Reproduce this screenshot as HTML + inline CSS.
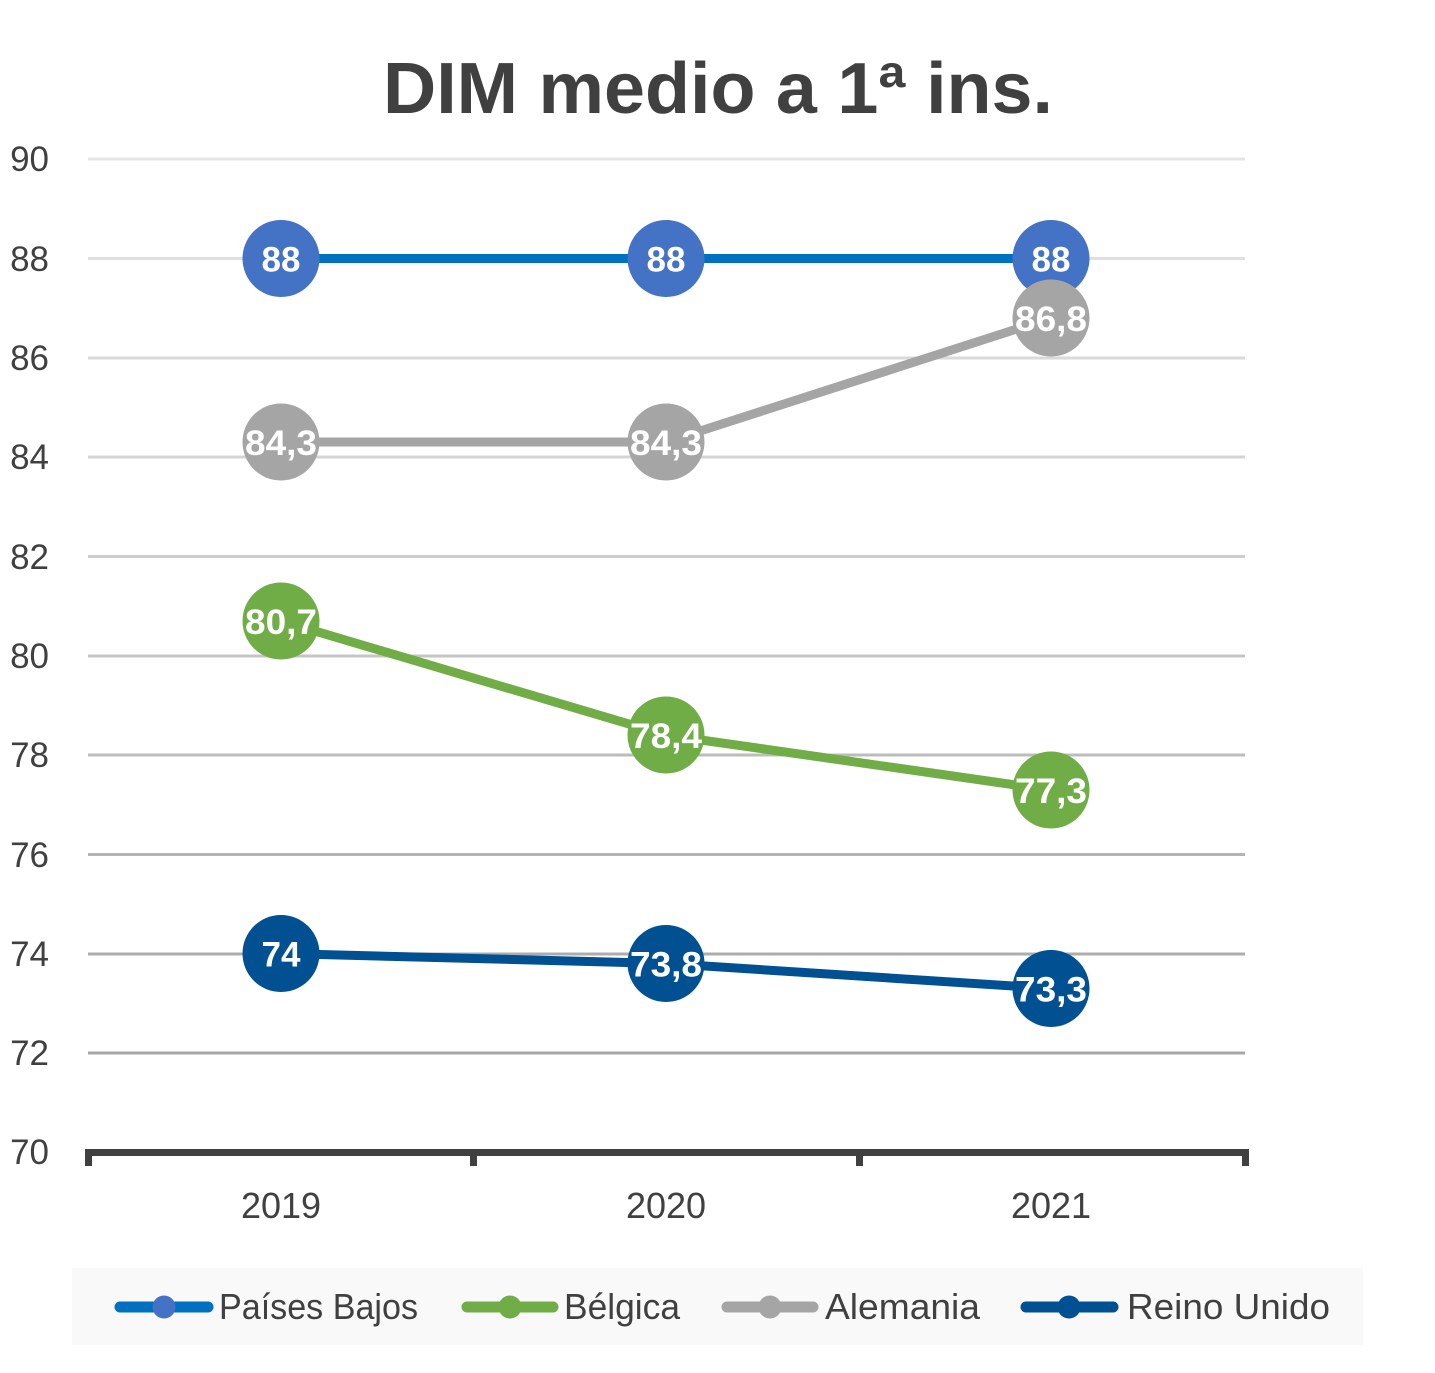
<!DOCTYPE html>
<html>
<head>
<meta charset="utf-8">
<style>
  html, body { margin: 0; padding: 0; background: #ffffff; }
  svg { display: block; }
  text { font-family: "Liberation Sans", "DejaVu Sans", sans-serif; }
</style>
</head>
<body>
<svg width="1435" height="1373" viewBox="0 0 1435 1373" xmlns="http://www.w3.org/2000/svg">
  <rect x="0" y="0" width="1435" height="1373" fill="#ffffff"/>

  <!-- Title -->
  <text x="718" y="113" text-anchor="middle" font-size="72" font-weight="bold" fill="#404040" textLength="670" lengthAdjust="spacingAndGlyphs">DIM medio a 1ª ins.</text>

  <!-- Gridlines -->
  <g stroke-width="3">
    <line x1="88" x2="1245" y1="159" y2="159" stroke="#e4e4e4"/>
    <line x1="88" x2="1245" y1="258.5" y2="258.5" stroke="#dfdfdf"/>
    <line x1="88" x2="1245" y1="358" y2="358" stroke="#dadada"/>
    <line x1="88" x2="1245" y1="457" y2="457" stroke="#d4d4d4"/>
    <line x1="88" x2="1245" y1="556.5" y2="556.5" stroke="#cdcdcd"/>
    <line x1="88" x2="1245" y1="656" y2="656" stroke="#c5c5c5"/>
    <line x1="88" x2="1245" y1="755" y2="755" stroke="#bcbcbc"/>
    <line x1="88" x2="1245" y1="854.5" y2="854.5" stroke="#b4b4b4"/>
    <line x1="88" x2="1245" y1="954" y2="954" stroke="#adadad"/>
    <line x1="88" x2="1245" y1="1053" y2="1053" stroke="#a7a7a7"/>
  </g>

  <!-- X axis -->
  <line x1="85" x2="1249" y1="1152.5" y2="1152.5" stroke="#404040" stroke-width="7"/>
  <g stroke="#404040" stroke-width="7">
    <line x1="88.5" x2="88.5" y1="1149" y2="1166"/>
    <line x1="473.5" x2="473.5" y1="1149" y2="1166"/>
    <line x1="859.5" x2="859.5" y1="1149" y2="1166"/>
    <line x1="1245.5" x2="1245.5" y1="1149" y2="1166"/>
  </g>

  <!-- Y labels -->
  <g font-size="35" fill="#404040" text-anchor="end">
    <text x="49" y="171">90</text>
    <text x="49" y="271">88</text>
    <text x="49" y="370">86</text>
    <text x="49" y="469">84</text>
    <text x="49" y="569">82</text>
    <text x="49" y="668">80</text>
    <text x="49" y="767">78</text>
    <text x="49" y="867">76</text>
    <text x="49" y="966">74</text>
    <text x="49" y="1065">72</text>
    <text x="49" y="1164">70</text>
  </g>

  <!-- X labels -->
  <g font-size="36" fill="#404040" text-anchor="middle">
    <text x="281" y="1218">2019</text>
    <text x="666" y="1218">2020</text>
    <text x="1051" y="1218">2021</text>
  </g>

  <!-- Series: Países Bajos -->
  <polyline points="281,258.5 666,258.5 1051,258.5" fill="none" stroke="#0070c0" stroke-width="9" stroke-linejoin="round"/>
  <g fill="#4472c4">
    <circle cx="281" cy="258.5" r="38.5"/>
    <circle cx="666" cy="258.5" r="38.5"/>
    <circle cx="1051" cy="258.5" r="38.5"/>
  </g>

  <!-- Series: Bélgica -->
  <polyline points="281,621 666,735 1051,790" fill="none" stroke="#70ad47" stroke-width="9" stroke-linejoin="round"/>
  <g fill="#70ad47">
    <circle cx="281" cy="621" r="38.5"/>
    <circle cx="666" cy="735" r="38.5"/>
    <circle cx="1051" cy="790" r="38.5"/>
  </g>

  <!-- Series: Alemania -->
  <polyline points="281,442 666,442 1051,318" fill="none" stroke="#a5a5a5" stroke-width="9" stroke-linejoin="round"/>
  <g fill="#a5a5a5">
    <circle cx="281" cy="442" r="38.5"/>
    <circle cx="666" cy="442" r="38.5"/>
    <circle cx="1051" cy="318" r="38.5"/>
  </g>

  <!-- Series: Reino Unido -->
  <polyline points="281,953.5 666,963.5 1051,988.5" fill="none" stroke="#005092" stroke-width="9" stroke-linejoin="round"/>
  <g fill="#005092">
    <circle cx="281" cy="953.5" r="38.5"/>
    <circle cx="666" cy="963.5" r="38.5"/>
    <circle cx="1051" cy="988.5" r="38.5"/>
  </g>

  <!-- Data labels -->
  <g font-size="35" font-weight="bold" fill="#ffffff" text-anchor="middle">
    <text x="281" y="271.5">88</text>
    <text x="666" y="271.5">88</text>
    <text x="1051" y="271.5">88</text>

    <text x="281" y="634" textLength="72" lengthAdjust="spacingAndGlyphs">80,7</text>
    <text x="666" y="748" textLength="72" lengthAdjust="spacingAndGlyphs">78,4</text>
    <text x="1051" y="803" textLength="72" lengthAdjust="spacingAndGlyphs">77,3</text>

    <text x="281" y="455" textLength="72" lengthAdjust="spacingAndGlyphs">84,3</text>
    <text x="666" y="455" textLength="72" lengthAdjust="spacingAndGlyphs">84,3</text>
    <text x="1051" y="331" textLength="72" lengthAdjust="spacingAndGlyphs">86,8</text>

    <text x="281" y="966.5">74</text>
    <text x="666" y="976.5" textLength="72" lengthAdjust="spacingAndGlyphs">73,8</text>
    <text x="1051" y="1001.5" textLength="72" lengthAdjust="spacingAndGlyphs">73,3</text>
  </g>

  <!-- Legend -->
  <rect x="72" y="1268" width="1291" height="77" fill="#f9f9f9"/>
  <g stroke-width="11" stroke-linecap="round">
    <line x1="120" x2="208" y1="1307" y2="1307" stroke="#0070c0"/>
    <line x1="467" x2="553" y1="1307" y2="1307" stroke="#70ad47"/>
    <line x1="727" x2="813" y1="1307" y2="1307" stroke="#a5a5a5"/>
    <line x1="1026" x2="1113" y1="1307" y2="1307" stroke="#005092"/>
  </g>
  <circle cx="164" cy="1307" r="11.5" fill="#4472c4"/>
  <circle cx="510" cy="1307" r="11.5" fill="#70ad47"/>
  <circle cx="770" cy="1307" r="11.5" fill="#a5a5a5"/>
  <circle cx="1069" cy="1307" r="11.5" fill="#005092"/>
  <g font-size="36" fill="#404040">
    <text x="219" y="1319" textLength="199" lengthAdjust="spacingAndGlyphs">Países Bajos</text>
    <text x="564" y="1319" textLength="116" lengthAdjust="spacingAndGlyphs">Bélgica</text>
    <text x="825" y="1319" textLength="155" lengthAdjust="spacingAndGlyphs">Alemania</text>
    <text x="1127" y="1319" textLength="203" lengthAdjust="spacingAndGlyphs">Reino Unido</text>
  </g>
</svg>
</body>
</html>
